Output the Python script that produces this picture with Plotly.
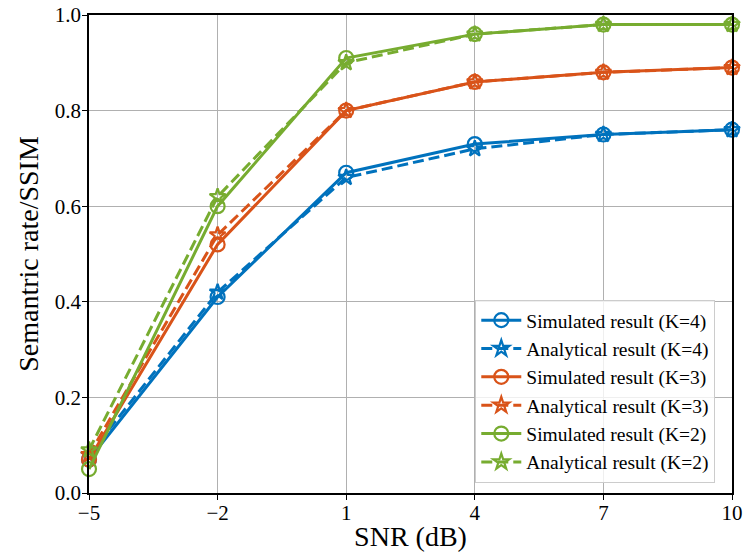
import plotly.graph_objects as go

snr = [-5, -2, 1, 4, 7, 10]
sim_k4 = [0.07, 0.41, 0.67, 0.73, 0.75, 0.76]
ana_k4 = [0.08, 0.42, 0.66, 0.72, 0.75, 0.76]
sim_k3 = [0.07, 0.52, 0.80, 0.86, 0.88, 0.89]
ana_k3 = [0.08, 0.54, 0.80, 0.86, 0.88, 0.89]
sim_k2 = [0.05, 0.60, 0.91, 0.96, 0.98, 0.98]
ana_k2 = [0.09, 0.62, 0.90, 0.96, 0.98, 0.98]
y_ticks = [0, 0.2, 0.4, 0.6, 0.8, 1.0]

blue = "#0072BD"
orange = "#D95319"
green = "#77AC30"

series = [
    ("Simulated result (K=4)", sim_k4, blue, "solid", "circle-open", 14),
    ("Analytical result (K=4)", ana_k4, blue, "11px,5px", "star-open", 12),
    ("Simulated result (K=3)", sim_k3, orange, "solid", "circle-open", 14),
    ("Analytical result (K=3)", ana_k3, orange, "11px,5px", "star-open", 12),
    ("Simulated result (K=2)", sim_k2, green, "solid", "circle-open", 14),
    ("Analytical result (K=2)", ana_k2, green, "11px,5px", "star-open", 12),
]

fig = go.Figure()
for name, ys, col, dash, sym, sz in series:
    fig.add_trace(go.Scatter(
        x=snr, y=ys, name=name, mode="lines+markers",
        line=dict(color=col, width=3, dash=dash),
        marker=dict(symbol=sym, size=sz, color=col, line=dict(width=2.2, color=col)),
        cliponaxis=False,
    ))

font_family = "Liberation Serif, Times New Roman, serif"
fig.update_layout(
    width=747, height=560,
    margin=dict(l=89, r=15, t=15, b=67),
    paper_bgcolor="white", plot_bgcolor="white",
    font=dict(family=font_family, color="black", size=20),
    showlegend=True,
    legend=dict(
        x=0.974, y=0.021, xanchor="right", yanchor="bottom",
        bgcolor="rgba(255,255,255,0.8)", bordercolor="#cccccc", borderwidth=1,
        font=dict(family=font_family, size=19.5, color="black"),
        tracegroupgap=0, itemwidth=40,
    ),
    xaxis=dict(
        range=[-5, 10], tickvals=snr, automargin=False,
        showgrid=True, gridcolor="#b0b0b0", gridwidth=1,
        showline=True, linecolor="black", linewidth=1.5, mirror=True,
        ticks="outside", ticklen=5, tickwidth=1.2, tickcolor="black",
        ticklabelstandoff=-5,
        zeroline=False,
        title=dict(text="SNR (dB)", font=dict(family=font_family, size=28), standoff=2),
        tickfont=dict(size=21),
    ),
    yaxis=dict(
        range=[0, 1.0], tickvals=y_ticks, tickformat=".1f", automargin=False,
        showgrid=True, gridcolor="#b0b0b0", gridwidth=1,
        showline=True, linecolor="black", linewidth=1.5, mirror=True,
        ticks="outside", ticklen=5, tickwidth=1.2, tickcolor="black",
        ticklabelstandoff=-3,
        zeroline=False,
        title=dict(text="Semantric rate/SSIM", font=dict(family=font_family, size=28), standoff=8),
        tickfont=dict(size=21),
    ),
)

# remove the page's default body margin so the figure fills the window exactly
fig.write_html("out.html", config={"displayModeBar": False},
               post_script="document.body.style.margin='0px';")
